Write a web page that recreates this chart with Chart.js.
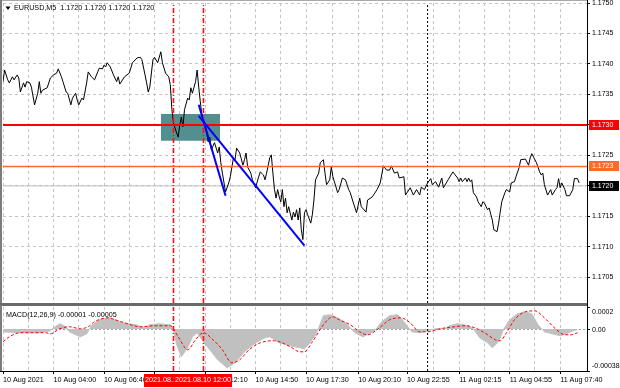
<!DOCTYPE html>
<html>
<head>
<meta charset="utf-8">
<script src="https://cdn.jsdelivr.net/npm/chart.js@4.4.1/dist/chart.umd.min.js"></script>
<style>
html, body { margin: 0; padding: 0; background: #fff; }
#wrap { position: relative; width: 620px; height: 388px; overflow: hidden; background: #fff; }
#priceChart { position: absolute; left: 0; top: 0; }
#macdChart { position: absolute; left: 0; top: 305px; }
</style>
</head>
<body>
<div id="wrap">
  <canvas id="priceChart" width="620" height="305"></canvas>
  <canvas id="macdChart" width="620" height="83"></canvas>
</div>
<script>
// --- data (x is the bar number on the M5 chart) ---
const chartTitle = 'EURUSD,M5  1.1720 1.1720 1.1720 1.1720';
const macdTitle = 'MACD(12,26,9) -0.00001 -0.00005';

const tickBars = [0, 32, 64, 96, 128, 160, 192, 225, 256, 289, 321, 353];
const timeLabels = ['10 Aug 2021', '10 Aug 04:00', '10 Aug 06:40', '10 Aug 09:25', '10 Aug 12:10', '10 Aug 14:50',
  '10 Aug 17:30', '10 Aug 20:10', '10 Aug 22:55', '11 Aug 02:15', '11 Aug 04:55', '11 Aug 07:40'];
const priceTicks = [1.1705, 1.1710, 1.1715, 1.1720, 1.1725, 1.1730, 1.1735, 1.1740, 1.1745, 1.1750];

const barRange = [0, 370];
const priceRange = [1.17008, 1.1750];
const macdRange = [-0.00038, 0.0002];

const priceBars = [0,1,3,4,6,7,9,10,11,13, 14,15,17,18,20,22,23,24,25,28, 30,32,34,35,37,38,40,41,43,44,
  46,47,48,50,51,53,54,56,58,60, 61,63,64,65,66,68,70,72,73,74, 77,80,82,85,87,88,90,91,92,93,
  95,96,98,100,101,103,105,106,107,108, 110,111,112,113,114,115,117,118,119,120, 122,123,124,125,126,127,129,130,131,132,
  134,136,137,138,139,141,143,144,146,147, 148,150,152,153,154,155,157,158,160,162, 163,165,166,167,169,170,171,172,173,174,
  175,176,177,178,179,180,181,183,184,185, 186,187,188,189,190,191,192,193,195,196, 197,198,200,201,203,204,205,207,208,209,
  211,212,213,215,217,219,220,222,224,226, 227,230,231,234,237,239,241,243,245,246, 248,250,251,254,255,258,260,262,264,265,
  267,269,271,272,274,276,278,279,282,285, 288,289,290,291,293,294,295,296,297,298, 300,301,303,304,305,307,308,310,311,313,
  314,315,316,318,319,321,322,324,325,326, 327,328,331,333,334,335,337,338,340,341, 342,343,345,347,348,350,351,352,353,354,
  356,357,359,361,362,364,365];
const priceClose = [
  1.17371,1.17390,1.17374,1.17369,1.17379,1.17374,1.17382,1.17377,1.17354,1.17369,
  1.17362,1.17371,1.17369,1.17362,1.17333,1.17352,1.17371,1.17352,1.17357,1.17361,
  1.17377,1.17382,1.17385,1.17392,1.17379,1.17371,1.17354,1.17352,1.17333,1.17344,
  1.17352,1.17341,1.17333,1.17344,1.17341,1.17369,1.17387,1.17379,1.17374,1.17387,
  1.17393,1.17392,1.17398,1.17395,1.17402,1.17395,1.17382,1.17371,1.17379,1.17367,
  1.17379,1.17385,1.17402,1.17410,1.17411,1.17407,1.17382,1.17369,1.17354,1.17362,
  1.17407,1.17411,1.17402,1.17420,1.17402,1.17385,1.17379,1.17366,1.17325,1.17303,
  1.17287,1.17280,1.17300,1.17313,1.17297,1.17325,1.17344,1.17341,1.17361,1.17352,
  1.17371,1.17390,1.17362,1.17338,1.17316,1.17305,1.17287,1.17272,1.17280,1.17259,
  1.17271,1.17254,1.17264,1.17238,1.17221,1.17190,1.17205,1.17215,1.17246,1.17243,
  1.17262,1.17254,1.17234,1.17243,1.17254,1.17231,1.17221,1.17210,1.17197,1.17215,
  1.17223,1.17218,1.17210,1.17221,1.17246,1.17251,1.17221,1.17194,1.17180,1.17194,
  1.17182,1.17174,1.17194,1.17166,1.17180,1.17156,1.17166,1.17144,1.17157,1.17149,
  1.17161,1.17144,1.17164,1.17128,1.17112,1.17156,1.17161,1.17153,1.17139,1.17153,
  1.17177,1.17210,1.17221,1.17238,1.17243,1.17221,1.17202,1.17210,1.17231,1.17215,
  1.17198,1.17189,1.17194,1.17213,1.17210,1.17194,1.17189,1.17172,1.17156,1.17180,
  1.17166,1.17157,1.17177,1.17182,1.17194,1.17205,1.17233,1.17226,1.17226,1.17233,
  1.17221,1.17223,1.17213,1.17215,1.17185,1.17197,1.17185,1.17194,1.17185,1.17198,
  1.17194,1.17205,1.17212,1.17202,1.17207,1.17198,1.17213,1.17197,1.17210,1.17223,
  1.17213,1.17207,1.17213,1.17207,1.17213,1.17207,1.17213,1.17207,1.17210,1.17189,
  1.17182,1.17174,1.17166,1.17174,1.17172,1.17161,1.17164,1.17144,1.17128,1.17125,
  1.17139,1.17157,1.17174,1.17189,1.17194,1.17190,1.17205,1.17207,1.17215,1.17223,
  1.17230,1.17243,1.17244,1.17234,1.17246,1.17253,1.17243,1.17238,1.17223,1.17218,
  1.17221,1.17202,1.17185,1.17194,1.17185,1.17194,1.17197,1.17212,1.17197,1.17205,
  1.17194,1.17184,1.17184,1.17194,1.17212,1.17212,1.17205];

// MACD values are in units of 0.00001
const macdUnit = 0.00001;
const histBars = [0,11,23,30,32,36,40,42,49,53, 56,61,67,71,75,84,90,93,99,106, 108,110,113,117,120,123,126,131,136,142,
  147,153,160,166,169,175,182,188,191,194, 198,200,203,207,212,217,220,223,228,232, 236,240,245,250,253,257,259,264,269,274,
  280,283,288,295,298,302,307,310,314,317, 321,326,331,335,339,343,348,353,357,361, 364];
const histValues = [-2.5,-3.3,-3.3,-1.6,1.1,4.8,2.1,-2.5,-7.0,-4.3, 3.0,8.4,10.2,8.4,5.7,3.9,1.1,3.9,4.8,3.9,
  -0.6,-14.2,-25.1,-17.0,-7.0,-3.3,-9.7,-18.7,-27.8,-35.1, -30.6,-20.6,-12.4,-7.9,-7.0,-12.4,-15.1,-17.0,-17.9,-13.3,
  -5.2,1.1,12.1,13.0,10.2,5.7,1.1,-3.3,-7.0,-4.3, -0.6,6.7,12.1,13.0,8.4,1.1,-2.5,-3.3,-1.6,0.3,
  0.3,3.0,4.8,3.0,0.3,-7.9,-12.4,-17.0,-11.5,-0.6, 8.4,13.8,15.7,13.8,3.9,-2.5,-4.3,-6.0,-4.3,-1.6, -0.6];
const signalBars = [0,4,11,27,30,36,42,49,54,58, 67,71,77,87,96,106,111,117,122,127, 133,139,145,150,156,163,172,182,188,191,
  196,204,209,213,220,226,231,237,245,252, 258,264,269,277,286,293,299,305,312,315, 319,324,331,337,343,350,356,360,364];
const signalValues = [-11.5,-7.0,-3.3,-3.3,-4.3,0.3,2.1,0.3,2.1,6.7, 10.2,8.4,5.7,2.1,3.0,3.0,-7.0,-18.7,-9.7,-3.3,
  -9.7,-18.7,-30.6,-27.8,-18.7,-12.4,-10.6,-16.0,-20.6,-20.6, -11.5,5.7,11.1,8.4,3.9,-2.5,-5.2,-0.6,8.4,10.2,
  5.7,-2.5,-2.5,0.3,2.1,3.0,1.1,-3.3,-9.7,-10.6, -3.3,8.4,15.7,16.5,10.2,0.3,-5.2,-5.2,-3.3];
const macdTicks = [0.0002, 0, -0.00038];
const macdTickLabels = ['0.0002', '0.00', '-0.00038'];

// objects drawn on the chart
const levelPrices = [1.1730, 1.17232, 1.1720];
const levelLabels = ['1.1730', '1.1723', '1.1720'];
const vLineBars = [108, 127];
const vLineLabels = ['2021.08.10 10:25', '2021.08.10 12:00'];
const daySepBar = 269;
const zoneBars = [100, 137.5];
const zonePrices = [1.17318, 1.17274];
const trendBars = [[124, 141], [124, 191]];
const trendPrices = [[1.17333, 1.17184], [1.17315, 1.17102]];

// --- styles ---
const levelColors = ['#ff0000', '#ff6a2a', '#000000'];
const gridColor = '#c4c4c4';
const vLineDash = [5, 2, 1, 2];
const FONT = "'Liberation Sans', Arial, sans-serif";

Chart.defaults.font.family = FONT;
Chart.defaults.font.size = 7.2;
Chart.defaults.color = '#000';

function xy(xs, ys) {
  return xs.map(function(x, i) { return {x: x, y: ys[i]}; });
}

var gridBars = [];
tickBars.forEach(function(b, i) {
  gridBars.push(b);
  if (i < tickBars.length - 1) gridBars.push((b + tickBars[i + 1]) / 2);
});

function lineSet(data, color, width, dash, order) {
  return {data: data, borderColor: color, borderWidth: width, borderDash: dash || [], order: order, fill: false};
}

// main price window
var priceDecor = {
  id: 'priceDecor',
  afterDraw: function(chart) {
    var ctx = chart.ctx, area = chart.chartArea, ys = chart.scales.y;
    ctx.save();
    ctx.fillStyle = '#a8a8a8';
    ctx.fillRect(0, 0, area.right, 1);
    ctx.fillStyle = '#7c7c7c';
    ctx.fillRect(0, 0, 2, chart.height);
    ctx.fillStyle = '#6a6a6a';
    ctx.fillRect(0, area.bottom, area.right, chart.height - area.bottom);
    ctx.fillStyle = '#000';
    ctx.fillRect(area.right, 0, 1, chart.height);

    ctx.font = '7.2px ' + FONT;
    ctx.textBaseline = 'middle';
    ctx.beginPath();
    ctx.moveTo(5.5, 6.5); ctx.lineTo(10.5, 6.5); ctx.lineTo(8, 10);
    ctx.closePath();
    ctx.fill();
    ctx.fillText(chartTitle, 14, 8.5);

    ctx.font = '7px ' + FONT;
    levelPrices.forEach(function(p, i) {
      var y = Math.round(ys.getPixelForValue(p));
      ctx.fillStyle = levelColors[i];
      ctx.fillRect(area.right + 2, y - 5, 30, 10);
      ctx.fillStyle = '#fff';
      ctx.fillText(levelLabels[i], area.right + 5, y + 0.5);
    });
    ctx.restore();
  }
};

var priceSets = [
  lineSet(xy(trendBars[0], trendPrices[0]), '#0000ff', 2, null, 0),
  lineSet(xy(trendBars[1], trendPrices[1]), '#0000ff', 2, null, 0),
  lineSet(xy(barRange, [levelPrices[0], levelPrices[0]]), levelColors[0], 2, null, 1),
  lineSet(xy(barRange, [levelPrices[1], levelPrices[1]]), levelColors[1], 1.5, null, 1),
  lineSet(xy([vLineBars[0], vLineBars[0]], priceRange), '#ff1010', 1.6, vLineDash, 1),
  lineSet(xy([vLineBars[1], vLineBars[1]], priceRange), '#ff1010', 1.6, vLineDash, 1),
  lineSet(xy([daySepBar, daySepBar], priceRange), '#000', 1, [2, 2], 1),
  lineSet(xy(priceBars, priceClose), '#000', 1, null, 2),
  lineSet(xy(barRange, [levelPrices[2], levelPrices[2]]), '#c0c0c0', 1, null, 3),
  {data: xy(zoneBars, [zonePrices[0], zonePrices[0]]), borderColor: 'transparent', borderWidth: 0,
   backgroundColor: '#538f8f', fill: {value: zonePrices[1]}, order: 4}
];

new Chart(document.getElementById('priceChart'), {
  type: 'line',
  data: {datasets: priceSets},
  plugins: [priceDecor],
  options: {
    responsive: false,
    animation: false,
    events: [],
    layout: {padding: {left: 3, top: 3, right: 0, bottom: 2}},
    elements: {point: {radius: 0, hitRadius: 0}, line: {tension: 0}},
    plugins: {legend: {display: false}, tooltip: {enabled: false}},
    scales: {
      x: {
        type: 'linear', min: barRange[0], max: barRange[1], bounds: 'data',
        afterBuildTicks: function(s) { s.ticks = gridBars.map(function(v) { return {value: v}; }); },
        afterFit: function(s) { s.height = 0; s.paddingLeft = 0; s.paddingRight = 0; },
        ticks: {display: false},
        grid: {color: gridColor, drawTicks: false},
        border: {display: false, dash: [3, 3]}
      },
      y: {
        type: 'linear', position: 'right', min: priceRange[0], max: priceRange[1], bounds: 'data',
        afterBuildTicks: function(s) { s.ticks = priceTicks.map(function(v) { return {value: v}; }); },
        afterFit: function(s) { s.width = 33; s.paddingTop = 0; s.paddingBottom = 0; },
        ticks: {callback: function(v) { return v.toFixed(4); }, padding: 2, font: {size: 7}},
        grid: {color: gridColor, tickColor: '#000', tickLength: 3, tickBorderDash: []},
        border: {display: false, dash: [3, 3]}
      }
    }
  }
});

// MACD window
var macdDecor = {
  id: 'macdDecor',
  afterDraw: function(chart) {
    var ctx = chart.ctx, area = chart.chartArea, xs = chart.scales.x, ys = chart.scales.y;
    ctx.save();
    ctx.fillStyle = '#6a6a6a';
    ctx.fillRect(0, 0, area.right, 1);
    ctx.fillStyle = '#7c7c7c';
    ctx.fillRect(0, 0, 2, area.bottom);
    ctx.fillStyle = '#000';
    ctx.fillRect(area.right, 0, 1, area.bottom + 1);
    ctx.fillRect(0, area.bottom, area.right, 1);

    ctx.font = '7.2px ' + FONT;
    ctx.textBaseline = 'middle';
    ctx.fillText(macdTitle, 6, area.top + 8);

    ctx.font = '7px ' + FONT;
    macdTicks.forEach(function(v, i) {
      var y = ys.getPixelForValue(v);
      ctx.fillRect(area.right, Math.round(y), 3, 1);
      ctx.textBaseline = i === 0 ? 'top' : (i === macdTicks.length - 1 ? 'bottom' : 'middle');
      var ty = i === 0 ? y + 2 : (i === macdTicks.length - 1 ? y - 1 : y + 0.5);
      ctx.fillText(macdTickLabels[i], area.right + 5, ty);
    });

    ctx.font = '7.2px ' + FONT;
    ctx.textAlign = 'center';
    ctx.textBaseline = 'middle';
    vLineBars.forEach(function(b, i) {
      var x = Math.round(xs.getPixelForValue(b));
      ctx.fillStyle = '#ff0000';
      ctx.fillRect(x - 29, area.bottom + 3, 58, 13);
      ctx.fillStyle = '#fff';
      ctx.fillText(vLineLabels[i], x, area.bottom + 9.5);
    });
    ctx.restore();
  }
};

var macdSets = [
  Object.assign(lineSet(xy(signalBars, signalValues.map(function(v) { return v * macdUnit; })), '#ff0000', 1, [3, 2], 1),
    {cubicInterpolationMode: 'monotone'}),
  lineSet(xy([vLineBars[0], vLineBars[0]], macdRange), '#ff1010', 1.6, vLineDash, 0),
  lineSet(xy([vLineBars[1], vLineBars[1]], macdRange), '#ff1010', 1.6, vLineDash, 0),
  lineSet(xy([daySepBar, daySepBar], macdRange), '#000', 1, [2, 2], 0),
  {data: xy(histBars, histValues.map(function(v) { return v * macdUnit; })), borderColor: '#c0c0c0', borderWidth: 1,
   backgroundColor: '#c0c0c0', fill: 'origin', order: 2}
];

new Chart(document.getElementById('macdChart'), {
  type: 'line',
  data: {datasets: macdSets},
  plugins: [macdDecor],
  options: {
    responsive: false,
    animation: false,
    events: [],
    layout: {padding: {left: 3, top: 2, right: 0, bottom: 0}},
    elements: {point: {radius: 0, hitRadius: 0}, line: {tension: 0}},
    plugins: {legend: {display: false}, tooltip: {enabled: false}},
    scales: {
      x: {
        type: 'linear', min: barRange[0], max: barRange[1], bounds: 'data',
        afterBuildTicks: function(s) { s.ticks = gridBars.map(function(v) { return {value: v}; }); },
        afterFit: function(s) { s.height = 17; s.paddingLeft = 0; s.paddingRight = 0; },
        ticks: {
          autoSkip: false, maxRotation: 0, minRotation: 0, align: 'start', padding: 2,
          callback: function(v) { var i = tickBars.indexOf(v); return i >= 0 ? timeLabels[i] : ''; }
        },
        grid: {
          color: gridColor, tickLength: 3, tickBorderDash: [],
          tickColor: function(c) { return c.tick && tickBars.indexOf(c.tick.value) >= 0 ? '#000' : 'transparent'; }
        },
        border: {display: false, dash: [3, 3]}
      },
      y: {
        type: 'linear', position: 'right', min: macdRange[0], max: macdRange[1], bounds: 'data',
        afterBuildTicks: function(s) { s.ticks = macdTicks.map(function(v) { return {value: v}; }); },
        afterFit: function(s) { s.width = 33; s.paddingTop = 0; s.paddingBottom = 0; },
        ticks: {display: false},
        grid: {
          drawTicks: false,
          color: function(c) { return c.tick && c.tick.value === 0 ? '#a0a0a0' : 'transparent'; }
        },
        border: {display: false, dash: [2, 2]}
      }
    }
  }
});
</script>
</body>
</html>
